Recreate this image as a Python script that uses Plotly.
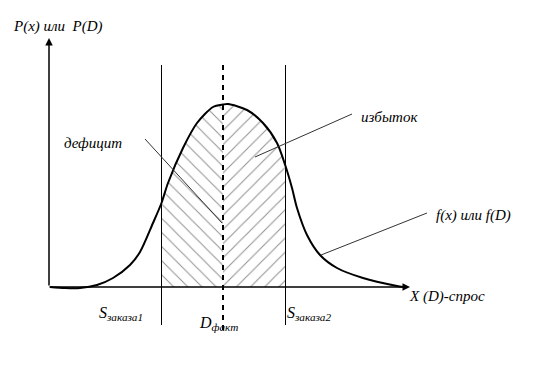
import plotly.graph_objects as go

# Bell-shaped demand density curve (x = demand, y = density)
curve_x = [1, 16, 31, 48, 64, 81, 91, 104, 112.5, 119, 134, 148, 164, 174, 179, 198, 214, 228, 236.5, 243, 248, 258, 271, 288, 314, 348, 354]
curve_y = [0, -1, -1, 2, 9, 22, 35, 64, 84, 104, 139, 164, 180, 182.5, 183, 177, 164, 144, 121, 99, 79, 52, 32, 19, 9, 1, 0]

# Key demand levels
s_order1 = 112.5   # S заказа1
d_fact = 174       # D факт
s_order2 = 236.5   # S заказа2

# Texts
axis_y_label = "P(x) или  P(D)"
axis_x_label = "X (D)-спрос"
curve_label = "f(x) или f(D)"
deficit_label = "дефицит"
surplus_label = "избыток"
s1_label = "S<sub>заказа1</sub>"
s2_label = "S<sub>заказа2</sub>"
d_label = "D<sub>факт</sub>"

i1 = curve_x.index(s_order1)
i2 = curve_x.index(d_fact)
i3 = curve_x.index(s_order2)

fig = go.Figure()

# hatched deficit region
fig.add_trace(go.Scatter(
    x=curve_x[i1:i2 + 1], y=curve_y[i1:i2 + 1], mode="lines",
    line=dict(width=0, shape="spline", smoothing=0.8), fill="tozeroy",
    fillcolor="white",
    fillpattern=dict(shape="\\", size=10, solidity=0.1, fgcolor="#222222", bgcolor="white"),
    hoverinfo="skip"))
# hatched surplus region
fig.add_trace(go.Scatter(
    x=curve_x[i2:i3 + 1], y=curve_y[i2:i3 + 1], mode="lines",
    line=dict(width=0, shape="spline", smoothing=0.8), fill="tozeroy",
    fillcolor="white",
    fillpattern=dict(shape="/", size=10, solidity=0.1, fgcolor="#222222", bgcolor="white"),
    hoverinfo="skip"))
# density curve
fig.add_trace(go.Scatter(
    x=curve_x, y=curve_y, mode="lines",
    line=dict(color="black", width=2, shape="spline", smoothing=0.8),
    hoverinfo="skip"))

shapes = []
for xv in (s_order1, s_order2):
    shapes.append(dict(type="line", x0=xv, x1=xv, y0=-38, y1=222,
                       line=dict(color="black", width=1)))
shapes.append(dict(type="line", x0=d_fact, x1=d_fact, y0=-43, y1=222,
                   line=dict(color="black", width=2, dash="5px,5px")))
# leader lines
lead = dict(color="#333333", width=1)
shapes.append(dict(type="line", x0=96, y0=148, x1=173, y1=64, line=lead))
shapes.append(dict(type="line", x0=303, y0=173, x1=206, y1=130, line=lead))
shapes.append(dict(type="line", x0=378, y0=74, x1=272, y1=32, line=lead))

FAMILY = "Liberation Serif, Times New Roman, serif"
ann = []
# axes with arrows
ann.append(dict(x=0, y=249, ax=0, ay=0, xref="x", yref="y", axref="x", ayref="y",
                text="", showarrow=True, arrowhead=2, arrowsize=1.0, arrowwidth=1.5,
                arrowcolor="black"))
ann.append(dict(x=361, y=0, ax=-1, ay=0, xref="x", yref="y", axref="x", ayref="y",
                text="", showarrow=True, arrowhead=2, arrowsize=1.0, arrowwidth=1.5,
                arrowcolor="black"))


def label(txt, x, y, size=15):
    ann.append(dict(x=x, y=y, xref="x", yref="y", text="<i>" + txt + "</i>",
                    showarrow=False, xanchor="left", yanchor="middle",
                    font=dict(family=FAMILY, size=size, color="black")))


label(axis_y_label, -38, 261)
label(deficit_label, 13, 144)
label(surplus_label, 310, 170)
label(curve_label, 385, 72)
label(axis_x_label, 358, -9)
label(s1_label, 48, -26, 16)
label(s2_label, 236, -26, 16)
label(d_label, 148, -36, 16)

fig.update_layout(
    width=536, height=367, margin=dict(l=0, r=0, t=0, b=0),
    paper_bgcolor="white", plot_bgcolor="white", showlegend=False,
    font=dict(family=FAMILY),
    xaxis=dict(range=[-49, 487], visible=False, fixedrange=True),
    yaxis=dict(range=[-80, 287], visible=False, fixedrange=True),
    shapes=shapes, annotations=ann,
)

fig.write_html("out.html")
